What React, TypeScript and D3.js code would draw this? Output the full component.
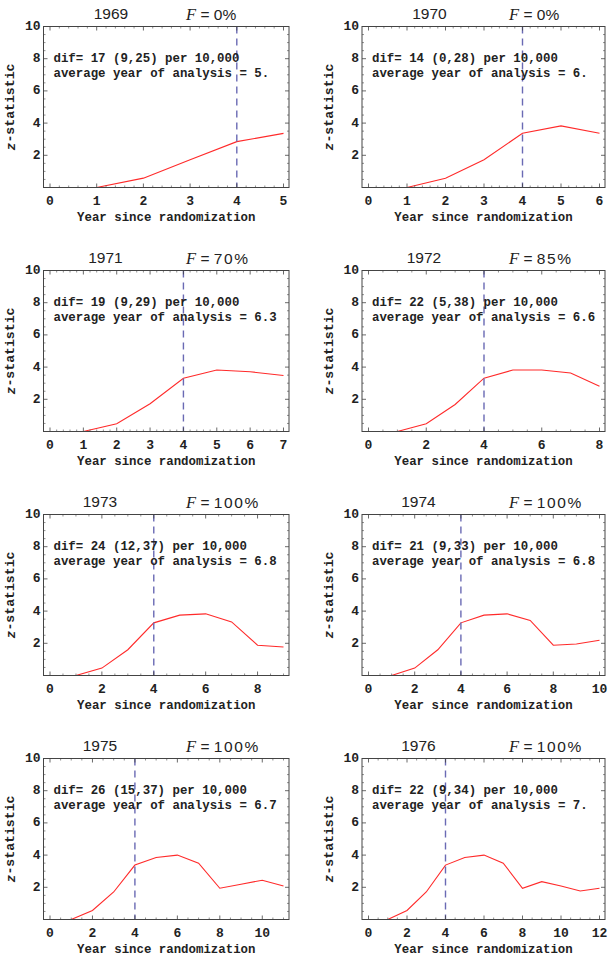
import React from "react";
import * as d3 from "d3";

// ---------- data ----------
const years = [1969, 1970, 1971, 1972, 1973, 1974, 1975, 1976];
const fLabels = ["0%", "0%", "70%", "85%", "100%", "100%", "100%", "100%"];
const xMaxes = [5, 6, 7, 8, 9, 10, 11, 12];
const xTickSteps = [1, 1, 1, 2, 2, 2, 2, 2];
const difLines = [
  "dif= 17 (9,25) per 10,000",
  "dif= 14 (0,28) per 10,000",
  "dif= 19 (9,29) per 10,000",
  "dif= 22 (5,38) per 10,000",
  "dif= 24 (12,37) per 10,000",
  "dif= 21 (9,33) per 10,000",
  "dif= 26 (15,37) per 10,000",
  "dif= 22 (9,34) per 10,000",
];
const avgLines = [
  "average year of analysis = 5.",
  "average year of analysis = 6.",
  "average year of analysis = 6.3",
  "average year of analysis = 6.6",
  "average year of analysis = 6.8",
  "average year of analysis = 6.8",
  "average year of analysis = 6.7",
  "average year of analysis = 7.",
];
// z-statistic by year since randomization, starting at year 1
const z1969 = [0, 0.58, 1.72, 2.85, 3.36];
const z1970 = [0, 0.58, 1.72, 3.37, 3.83, 3.37];
const z1971 = [0, 0.48, 1.72, 3.31, 3.82, 3.71, 3.48];
const z1972 = [0, 0.48, 1.68, 3.31, 3.82, 3.82, 3.63, 2.81];
const z1973 = [0, 0.46, 1.6, 3.27, 3.75, 3.83, 3.33, 1.88, 1.77];
const z1974 = [0, 0.46, 1.6, 3.27, 3.75, 3.83, 3.42, 1.88, 1.96, 2.19];
const z1975 = [0, 0.56, 1.71, 3.38, 3.85, 4.0, 3.5, 1.94, 2.19, 2.44, 2.08];
const z1976 = [0, 0.56, 1.71, 3.38, 3.85, 4.0, 3.5, 1.94, 2.35, 2.08, 1.77, 1.94];
const series = [z1969, z1970, z1971, z1972, z1973, z1974, z1975, z1976];
const firstYear = 1;
const cutoffYear = 4;
const yTicks = [2, 4, 6, 8, 10];
const yMax = 10;

// ---------- layout ----------
const W = 615;
const H = 959;
const colLeft = [43.5, 362];
const colRight = [289, 605];
const fOffset = [142.5, 147];
const rowTop0 = 26.5;
const rowStep = 244;
const plotH = 161;

const MONO = "'Liberation Mono', 'Courier New', monospace";
const SANS = "'Liberation Sans', Arial, Helvetica, sans-serif";
const SERIF = "'Liberation Serif', 'Times New Roman', serif";

function Panel({ idx }: { idx: number }) {
  const col = idx % 2;
  const row = Math.floor(idx / 2);
  const left = colLeft[col];
  const right = colRight[col];
  const top = rowTop0 + row * rowStep;
  const bottom = top + plotH;
  const xMax = xMaxes[idx];
  const step = xTickSteps[idx];

  const x = d3.scaleLinear().domain([0, xMax]).range([left + 6.5, right - 5.5]);
  const y = d3.scaleLinear().domain([0, yMax]).range([bottom, top]);

  const data = series[idx].map((v, i) => ({ t: firstYear + i, z: v }));
  const line = d3
    .line<{ t: number; z: number }>()
    .x((d) => x(d.t))
    .y((d) => y(d.z));

  const xMajor = d3.range(0, xMax + 1e-9, step);
  const xMinorStep = step === 1 ? 0.2 : 0.5;
  const xMinor = d3
    .range(0, xMax + 1e-9, xMinorStep)
    .filter((v) => Math.abs(v / step - Math.round(v / step)) > 1e-6);
  const yMinor = d3
    .range(0, yMax + 1e-9, 0.5)
    .filter((v) => Math.abs(v / 2 - Math.round(v / 2)) > 1e-6);

  const frameColor = "#444";
  const textColor = "#222";
  const majLen = 4;
  const minLen = 2;

  const fLabel = fLabels[idx];
  const yearX = left + 67.5 - 5.5 * (fLabel.length - 2);
  const fX = left + fOffset[col];
  const titleY = top - 13;

  return (
    <g>
      {/* title */}
      <text
        x={yearX}
        y={titleY}
        textAnchor="middle"
        dominantBaseline="central"
        fontFamily={SANS}
        fontSize={15.5}
        fill={textColor}
      >
        {years[idx]}
      </text>
      <text
        x={fX}
        y={titleY}
        dominantBaseline="central"
        fontFamily={SANS}
        fontSize={15.5}
        fill={textColor}
      >
        <tspan fontFamily={SERIF} fontStyle="italic" fontSize={16.5}>
          F
        </tspan>
        <tspan> = </tspan>
        <tspan letterSpacing={fLabel.length > 2 ? 1.6 : 0}>{fLabel}</tspan>
      </text>

      {/* data line */}
      <path d={line(data) || ""} fill="none" stroke="#ff2a2a" strokeWidth={1.1} />

      {/* cutoff */}
      <line
        x1={x(cutoffYear)}
        x2={x(cutoffYear)}
        y1={top}
        y2={bottom}
        stroke="#6a6ab4"
        strokeWidth={1.4}
        strokeDasharray="7,5"
      />

      {/* frame */}
      <rect
        x={left}
        y={top}
        width={right - left}
        height={plotH}
        fill="none"
        stroke={frameColor}
        strokeWidth={1}
      />

      {/* x ticks */}
      {xMajor.map((v) => (
        <g key={"xM" + v}>
          <line x1={x(v)} x2={x(v)} y1={bottom} y2={bottom - majLen} stroke={frameColor} strokeWidth={0.8} />
          <line x1={x(v)} x2={x(v)} y1={top} y2={top + majLen} stroke={frameColor} strokeWidth={0.8} />
          <text
            x={x(v)}
            y={bottom + 14}
            textAnchor="middle"
            dominantBaseline="central"
            fontFamily={MONO}
            fontWeight="bold"
            fontSize={13}
            fill={textColor}
          >
            {v}
          </text>
        </g>
      ))}
      {xMinor.map((v) => (
        <g key={"xm" + v}>
          <line x1={x(v)} x2={x(v)} y1={bottom} y2={bottom - minLen} stroke={frameColor} strokeWidth={0.6} />
          <line x1={x(v)} x2={x(v)} y1={top} y2={top + minLen} stroke={frameColor} strokeWidth={0.6} />
        </g>
      ))}

      {/* y ticks */}
      {yTicks.map((v) => (
        <g key={"yM" + v}>
          <line x1={left} x2={left + majLen} y1={y(v)} y2={y(v)} stroke={frameColor} strokeWidth={0.8} />
          <line x1={right} x2={right - majLen} y1={y(v)} y2={y(v)} stroke={frameColor} strokeWidth={0.8} />
          <text
            x={left - 3}
            y={y(v)}
            textAnchor="end"
            dominantBaseline="central"
            fontFamily={MONO}
            fontWeight="bold"
            fontSize={13}
            fill={textColor}
          >
            {v}
          </text>
        </g>
      ))}
      {yMinor.map((v) => (
        <g key={"ym" + v}>
          <line x1={left} x2={left + minLen} y1={y(v)} y2={y(v)} stroke={frameColor} strokeWidth={0.6} />
          <line x1={right} x2={right - minLen} y1={y(v)} y2={y(v)} stroke={frameColor} strokeWidth={0.6} />
        </g>
      ))}

      {/* annotation */}
      <text
        x={left + 10}
        y={y(8)}
        dominantBaseline="central"
        fontFamily={MONO}
        fontWeight="bold"
        fontSize={12.4}
        fill={textColor}
      >
        {difLines[idx]}
      </text>
      <text
        x={left + 10}
        y={y(7.07)}
        dominantBaseline="central"
        fontFamily={MONO}
        fontWeight="bold"
        fontSize={12.4}
        fill={textColor}
      >
        {avgLines[idx]}
      </text>

      {/* axis labels */}
      <text
        x={(left + right) / 2}
        y={bottom + 30}
        textAnchor="middle"
        dominantBaseline="central"
        fontFamily={MONO}
        fontWeight="bold"
        fontSize={12.4}
        fill={textColor}
      >
        Year since randomization
      </text>
      <text
        transform={`translate(${left - 33},${(top + bottom) / 2}) rotate(-90)`}
        textAnchor="middle"
        dominantBaseline="central"
        fontFamily={MONO}
        fontWeight="bold"
        fontSize={13.2}
        fill={textColor}
      >
        <tspan fontStyle="italic">z</tspan>-statistic
      </text>
    </g>
  );
}

export default function App() {
  return (
    <svg
      width={W}
      height={H}
      viewBox={`0 0 ${W} ${H}`}
      style={{ position: "absolute", left: 0, top: 0, background: "#fff" }}
    >
      <rect x={0} y={0} width={W} height={H} fill="#fff" />
      {years.map((_, i) => (
        <Panel key={i} idx={i} />
      ))}
    </svg>
  );
}
